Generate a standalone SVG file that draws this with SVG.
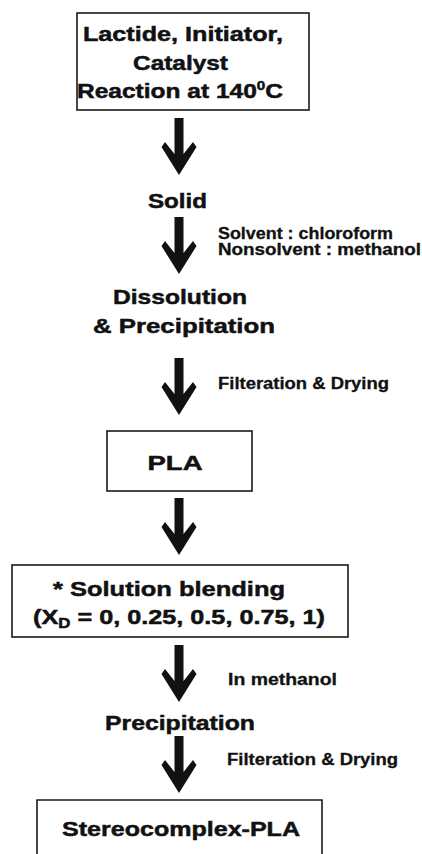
<svg xmlns="http://www.w3.org/2000/svg" xmlns:xlink="http://www.w3.org/1999/xlink" width="422" height="854" viewBox="0 0 422 854">
<style>
.box{fill:#fff;stroke:#1a1a1a;stroke-width:1.6}
.t{font-family:"Liberation Sans",Arial,sans-serif;font-weight:bold;font-size:21px;fill:#111;stroke:#111;stroke-width:0.5;text-anchor:middle}
.n{font-family:"Liberation Sans",Arial,sans-serif;font-weight:bold;font-size:16px;fill:#111;stroke:#111;stroke-width:0.3}
.arr{fill:#111}
</style>
<defs>
<path id="arrow" d="M-4.5,0 L4.5,0 L4.5,36 L14,24 L17.5,29 L0,57 L-17.5,29 L-14,24 L-4.5,36 Z"/>
</defs>
<rect width="422" height="854" fill="#fff"/>
<g id="connectors" class="arr">
<use xlink:href="#arrow" x="179" y="118"/>
<use xlink:href="#arrow" x="179" y="217"/>
<use xlink:href="#arrow" x="179" y="358"/>
<use xlink:href="#arrow" x="179" y="498"/>
<use xlink:href="#arrow" x="179" y="645"/>
<use xlink:href="#arrow" x="179" y="736"/>
</g>
<g id="node-reaction">
<rect class="box" x="77" y="13" width="232" height="97"/>
<text class="t" x="183" y="41" textLength="200" lengthAdjust="spacingAndGlyphs">Lactide, Initiator,</text>
<text class="t" x="180.5" y="70" textLength="95" lengthAdjust="spacingAndGlyphs">Catalyst</text>
<text class="t" x="180" y="98" textLength="206" lengthAdjust="spacingAndGlyphs">Reaction at 140<tspan font-size="13" dy="-8">0</tspan><tspan dy="8">C</tspan></text>
</g>
<g id="node-solid">
<text class="t" x="177.5" y="208" textLength="59" lengthAdjust="spacingAndGlyphs">Solid</text>
</g>
<g id="label-solvent">
<text class="n" x="218" y="239" textLength="175" lengthAdjust="spacingAndGlyphs">Solvent : chloroform</text>
<text class="n" x="218" y="255" textLength="203" lengthAdjust="spacingAndGlyphs">Nonsolvent : methanol</text>
</g>
<g id="node-dissolution">
<text class="t" x="180" y="304" textLength="134" lengthAdjust="spacingAndGlyphs">Dissolution</text>
<text class="t" x="184" y="333" textLength="182" lengthAdjust="spacingAndGlyphs">&amp; Precipitation</text>
</g>
<g id="label-filter1">
<text class="n" x="218" y="389" textLength="171" lengthAdjust="spacingAndGlyphs">Filteration &amp; Drying</text>
</g>
<g id="node-pla">
<rect class="box" x="107" y="431" width="145" height="60"/>
<text class="t" x="175" y="470" textLength="55" lengthAdjust="spacingAndGlyphs">PLA</text>
</g>
<g id="node-blending">
<rect class="box" x="12" y="565" width="336" height="72"/>
<text class="t" x="169" y="596" textLength="232" lengthAdjust="spacingAndGlyphs">* Solution blending</text>
<text class="t" x="179" y="624" textLength="292" lengthAdjust="spacingAndGlyphs">(X<tspan font-size="14" dy="4">D</tspan><tspan dy="-4"> = 0, 0.25, 0.5, 0.75, 1)</tspan></text>
</g>
<g id="label-methanol">
<text class="n" x="228" y="685" textLength="109" lengthAdjust="spacingAndGlyphs">In  methanol</text>
</g>
<g id="node-precipitation">
<text class="t" x="180" y="730" textLength="150" lengthAdjust="spacingAndGlyphs">Precipitation</text>
</g>
<g id="label-filter2">
<text class="n" x="227" y="765" textLength="171" lengthAdjust="spacingAndGlyphs">Filteration &amp; Drying</text>
</g>
<g id="node-stereocomplex">
<path class="box" d="M37,860 V800 H322 V860"/>
<text class="t" x="181" y="836" textLength="238" lengthAdjust="spacingAndGlyphs">Stereocomplex-PLA</text>
</g>
</svg>
